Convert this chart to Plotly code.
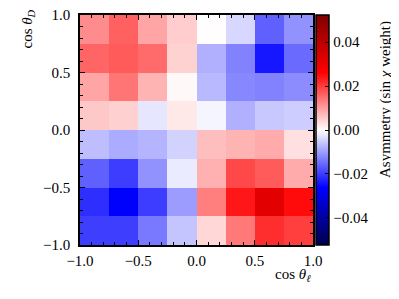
import plotly.graph_objects as go

# bin centres
cos_theta_l = [-0.875, -0.625, -0.375, -0.125, 0.125, 0.375, 0.625, 0.875]
cos_theta_D = [-0.875, -0.625, -0.375, -0.125, 0.125, 0.375, 0.625, 0.875]

# asymmetry rows, listed from bottom (cos θ_D = -0.875) to top (0.875)
row_m0875 = [-0.0198, -0.0198, -0.0137, -0.0061, 0.0041, 0.0137, 0.0214, 0.0198]
row_m0625 = [-0.0214, -0.0265, -0.0199, -0.0102, 0.0132, 0.0239, 0.0321, 0.0250]
row_m0375 = [-0.0163, -0.0199, -0.0112, -0.0021, 0.0081, 0.0188, 0.0168, 0.0086]
row_m0125 = [-0.0067, -0.0086, -0.0077, -0.0046, 0.0067, 0.0077, 0.0086, 0.0033]
row_p0125 = [0.0056, 0.0048, -0.0026, 0.0024, -0.0010, -0.0081, -0.0056, -0.0051]
row_p0375 = [0.0092, 0.0142, 0.0077, 0.0007, -0.0072, -0.0123, -0.0128, -0.0118]
row_p0625 = [0.0158, 0.0168, 0.0153, 0.0046, -0.0081, -0.0128, -0.0239, -0.0153]
row_p0875 = [0.0118, 0.0163, 0.0092, 0.0051, 0.0002, -0.0041, -0.0163, -0.0112]

z = [row_m0875, row_m0625, row_m0375, row_m0125, row_p0125, row_p0375, row_p0625, row_p0875]

axis_ticks = [-1.0, -0.5, 0.0, 0.5, 1.0]
cbar_labels = [-0.04, -0.02, 0.00, 0.02, 0.04]
zlim = 0.0523

seismic = [[0.0, "rgb(0,0,77)"], [0.25, "rgb(0,0,255)"], [0.5, "rgb(255,255,255)"],
           [0.75, "rgb(255,0,0)"], [1.0, "rgb(128,0,0)"]]

FONT = "Liberation Serif, DejaVu Serif, serif"
FS = 15

# page has an 8px body margin: figure is drawn 8px right/down of the window origin
OFF = 8
W, H = 399 - OFF, 299 - OFF
L, T = 80 - OFF, 15 - OFF
R = W - (313 - OFF)
B = H - (245 - OFF)
plot_w = W - L - R
plot_h = H - T - B
CB_X = (316 - 80) / plot_w   # colorbar left edge (paper)
CB_THICK = 13                # px

fig = go.Figure(go.Heatmap(
    x=cos_theta_l, y=cos_theta_D, z=z,
    zmin=-zlim, zmax=zlim, colorscale=seismic,
    colorbar=dict(
        x=CB_X, xanchor="left", xpad=0, ypad=0,
        y=0.5, yanchor="middle", len=1, lenmode="fraction",
        thickness=CB_THICK, thicknessmode="pixels",
        outlinewidth=1.5, outlinecolor="black",
        ticks="inside", ticklen=4, tickwidth=1, tickcolor="black",
        tickvals=cbar_labels, tickformat=".2f",
        tickfont=dict(family=FONT, size=FS, color="black"),
    ),
))

# unlabelled intermediate colorbar ticks (every 0.02/3)
step = 0.02 / 3
cb_right = CB_X + CB_THICK / plot_w
shapes = []
for k in range(-7, 8):
    if k % 3 == 0:
        continue
    v = k * step
    yp = (v + zlim) / (2 * zlim)
    shapes.append(dict(type="line", xref="paper", yref="paper",
                       x0=cb_right - 4 / plot_w, x1=cb_right, y0=yp, y1=yp,
                       line=dict(color="black", width=1)))

axis_common = dict(
    range=[-1, 1], tickvals=axis_ticks, tickformat=".1f",
    ticks="inside", ticklen=5, tickwidth=1, tickcolor="black",
    showline=True, linecolor="black", linewidth=1.5, mirror="allticks",
    showgrid=False, zeroline=False, automargin=False,
    ticklabeloverflow="allow",
    minor=dict(dtick=0.1, ticks="inside", ticklen=3, tickwidth=1, tickcolor="black", showgrid=False),
    tickfont=dict(family=FONT, size=FS, color="black"),
)

fig.update_layout(
    width=W, height=H,
    margin=dict(l=L, r=R, t=T, b=B, autoexpand=False),
    paper_bgcolor="white", plot_bgcolor="white",
    xaxis=dict(**axis_common, ticklabelstandoff=1),
    yaxis=dict(**axis_common, ticklabelstandoff=5),
    font=dict(family=FONT, size=FS, color="black"),
    shapes=shapes,
    annotations=[
        dict(text="cos <i>θ</i><sub><i>D</i></sub>", textangle=-90,
             xref="paper", yref="paper", x=(28 - 80) / plot_w, y=(245 - 8) / plot_h,
             xanchor="center", yanchor="top", showarrow=False,
             font=dict(family=FONT, size=FS, color="black")),
        dict(text="cos <i>θ</i><sub><i>ℓ</i></sub>",
             xref="paper", yref="paper", x=1.0, y=(245 - 275) / plot_h,
             xanchor="right", yanchor="middle", showarrow=False,
             font=dict(family=FONT, size=FS, color="black")),
        dict(text="Asymmetry (sin <i>χ</i> weight)", textangle=-90,
             xref="paper", yref="paper", x=(385 - 80) / plot_w, y=(245 - 100) / plot_h,
             xanchor="center", yanchor="middle", showarrow=False,
             font=dict(family=FONT, size=FS, color="black")),
    ],
)

fig.write_html("out.html")
